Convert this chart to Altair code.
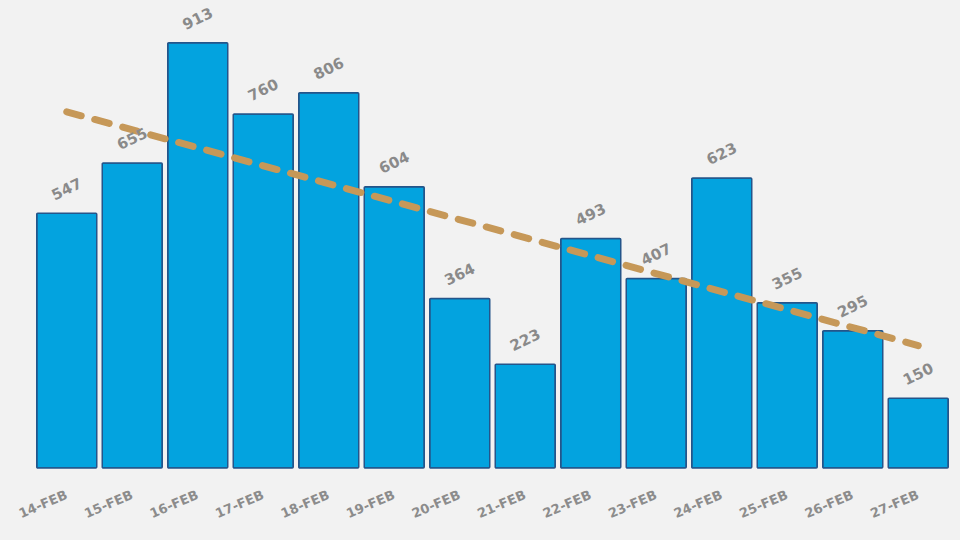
import json
import altair as alt
import pandas as pd

dates = ["14-FEB", "15-FEB", "16-FEB", "17-FEB", "18-FEB", "19-FEB", "20-FEB",
         "21-FEB", "22-FEB", "23-FEB", "24-FEB", "25-FEB", "26-FEB", "27-FEB"]
values = [547, 655, 913, 760, 806, 604, 364, 223, 493, 407, 623, 355, 295, 150]

df = pd.DataFrame({"date": dates, "value": values})

x_enc = alt.X("date:N", sort=dates,
              scale=alt.Scale(paddingInner=0.084, paddingOuter=0.042),
              axis=alt.Axis(title=None, domain=False, ticks=False, labelAngle=-23,
                            labelAlign="right", labelBaseline="middle", labelPadding=26,
                            labelColor="#8c8c8c", labelFont="DejaVu Sans", labelFontSize=13,
                            labelFontWeight="bold"))
y_enc = alt.Y("value:Q", scale=alt.Scale(domain=[0, 1005], nice=False), axis=None)

base = alt.Chart(df)

bars = base.mark_bar(color="#03a3df", stroke="#24558a", strokeWidth=1.5, cornerRadius=1).encode(
    x=x_enc, y=y_enc)

labels = base.mark_text(font="DejaVu Sans", fontSize=15, fontWeight="bold", color="#8a8a8a",
                        angle=334, align="center", baseline="middle", yOffset=-24).encode(
    x=alt.X("date:N", sort=dates), y="value:Q", text="value:Q")

trend = base.transform_window(rn="row_number()").transform_regression(
    "rn", "value").transform_calculate(
    date=f"{json.dumps(dates)}[datum.rn - 1]").mark_line(
    color="#c69858", strokeWidth=7, strokeDash=[15, 14], strokeCap="round").encode(
    x=alt.X("date:N", sort=dates), y="value:Q")

chart = alt.layer(bars, trend, labels).properties(
    width=917, height=468,
    autosize=alt.AutoSizeParams(type="none"),
    padding={"left": 34, "top": 0, "right": 9, "bottom": 72},
    background="#f2f2f2",
).configure_view(stroke=None)

chart.save("out.html", embed_options={"renderer": "svg", "actions": False})
